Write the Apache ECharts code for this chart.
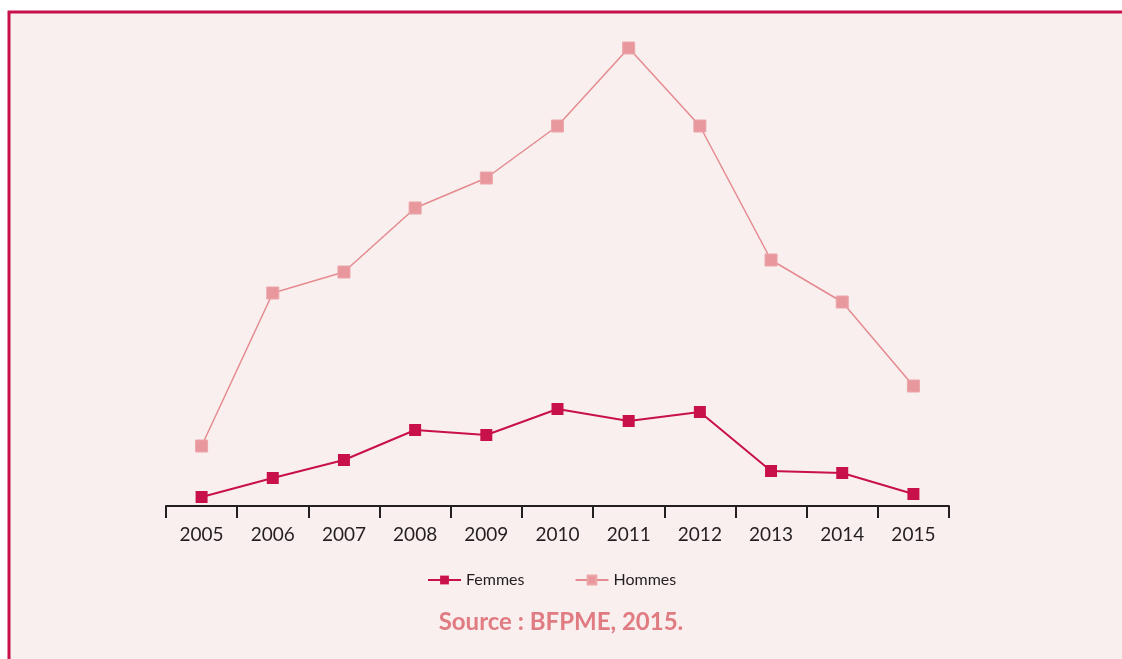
<!DOCTYPE html>
<html>
<head>
<meta charset="utf-8">
<script src="https://cdn.jsdelivr.net/npm/echarts@6/dist/echarts.min.js"></script>
<style>
  html, body { margin: 0; padding: 0; background: #ffffff; }
  #chart { width: 1122px; height: 659px; }
</style>
</head>
<body>
<div id="chart"></div>
<script>
// données (échelle relative, pas d'axe vertical)
const years = ['2005', '2006', '2007', '2008', '2009', '2010', '2011', '2012', '2013', '2014', '2015'];
const femmes = [9, 28, 46, 76, 71, 97, 85, 94, 35, 33, 12];
const hommes = [60, 213, 234, 298, 328, 380, 458, 380, 246, 204, 120];

const myChart = echarts.init(document.getElementById('chart'));

const option = {
    backgroundColor: '#ffffff',
    animation: false,
    graphic: [
        {
            type: 'rect',
            z: -10,
            shape: { x: 9, y: 12, width: 1130, height: 670 },
            style: { fill: '#f9efee', stroke: '#c8104a', lineWidth: 3 }
        },
        {
            type: 'text',
            left: 'center',
            top: 610,
            style: {
                text: 'Source : BFPME, 2015.',
                fill: '#e07b82',
                font: 'bold 24px Lato, "Open Sans", sans-serif'
            }
        }
    ],
    grid: { left: 166, right: 173, top: 46, bottom: 153 },
    legend: {
        left: 422,
        top: 567,
        itemWidth: 33,
        itemHeight: 11,
        itemGap: 50,
        textStyle: { fontSize: 16, color: '#231f20', fontFamily: 'Lato, sans-serif' },
        data: ['Femmes', 'Hommes']
    },
    xAxis: {
        type: 'category',
        data: years,
        boundaryGap: true,
        axisLine: { lineStyle: { color: '#231f20', width: 2 } },
        axisTick: { show: true, length: 12, alignWithLabel: false, lineStyle: { color: '#231f20', width: 2 } },
        axisLabel: { fontSize: 19, color: '#231f20', margin: 19, fontFamily: 'Lato, sans-serif' }
    },
    yAxis: {
        type: 'value',
        min: 0,
        max: 460,
        show: false,
        splitLine: { show: false }
    },
    series: [
        {
            name: 'Femmes',
            type: 'line',
            data: femmes,
            symbol: 'rect',
            symbolSize: 12,
            color: '#c8104a',
            lineStyle: { color: '#c8104a', width: 2 },
            itemStyle: { color: '#c8104a' },
            z: 3
        },
        {
            name: 'Hommes',
            type: 'line',
            data: hommes,
            symbol: 'rect',
            symbolSize: 12,
            color: '#e58a90',
            lineStyle: { color: '#e58a90', width: 1.5 },
            itemStyle: { color: '#e8979c', borderColor: '#eba6aa', borderWidth: 1 },
            z: 2
        }
    ]
};

myChart.setOption(option);
window.addEventListener('resize', myChart.resize);
</script>
</body>
</html>
